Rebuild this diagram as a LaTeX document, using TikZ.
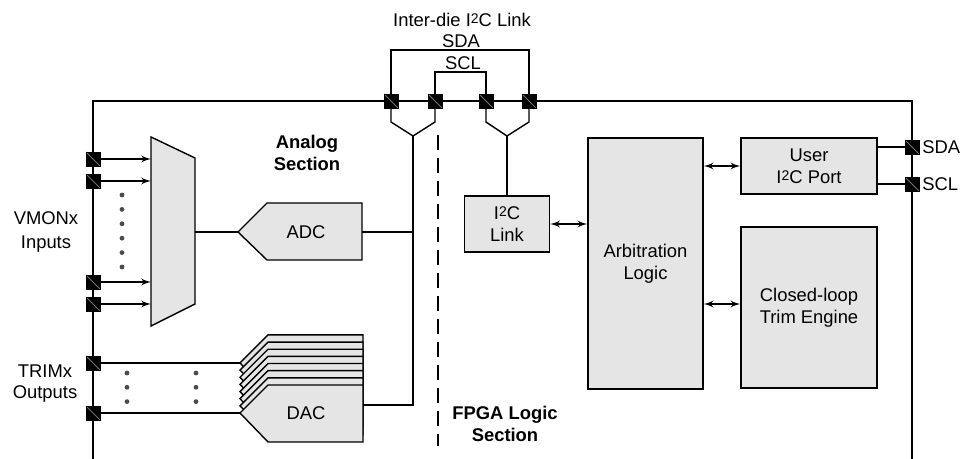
\documentclass[tikz,border=0pt]{standalone}
\usepackage{fontspec}
\setmainfont{Liberation Sans}
\usepackage{tikz}
\usetikzlibrary{arrows,positioning,calc}
\newcommand{\itwoc}{I\raisebox{0.3ex}{\fontsize{7}{7}\selectfont 2}C}
\tikzstyle{line} = [draw, line width=0.7pt]
\tikzstyle{arrline} = [draw, line width=0.7pt, -latex']
\tikzstyle{biarr} = [draw, line width=0.7pt, latex'-latex']
\tikzstyle{shade} = [draw, fill=black!10, line width=0.7pt]
\tikzstyle{block} = [draw, fill=black!10, line width=0.7pt, align=center, inner sep=0pt]
\tikzstyle{pinsq} = [draw=black, fill=black, minimum size=7pt, inner sep=0pt,
  path picture={\draw[black!55,line width=0.4pt] (path picture bounding box.north west) -- (path picture bounding box.south east);}]
\tikzstyle{dotc} = [circle, fill=black!70, minimum size=2.4pt, inner sep=0pt]

\begin{document}
\begin{tikzpicture}[x=0.5pt,y=-0.5pt,font=\fontsize{9.2}{11}\selectfont]
    \useasboundingbox (0,0) rectangle (960,459);

    % outline of the device
    \coordinate (frameBL) at (93,459);
    \coordinate (frameTL) at (93,101);
    \coordinate (frameTR) at (912,101);
    \coordinate (frameBR) at (912,459);
    \draw[line] (frameBL) -- (frameTL) -- (frameTR) -- (frameBR);

    % inter-die link brackets
    \coordinate (sdabar) at (460,50);
    \coordinate (sclbar) at (460,72);
    \coordinate (mergeL) at (413,136);
    \coordinate (mergeR) at (507,136);
    \node (sda1) at (391,101) {};
    \node (scl1) at (435,101) {};
    \node (scl2) at (486,101) {};
    \node (sda2) at (529,101) {};
    \draw[line] (sda1.center) |- (sdabar) -| (sda2.center);
    \draw[line] (scl1.center) |- (sclbar) -| (scl2.center);
    \draw[line] (sda1.center) -- ++(0,21) -- (mergeL);
    \draw[line] (scl1.center) -- ++(0,21) -- (mergeL);
    \draw[line] (scl2.center) -- ++(0,21) -- (mergeR);
    \draw[line] (sda2.center) -- ++(0,21) -- (mergeR);
    \node (linklbl) at (462,20) {Inter-die \itwoc{} Link};
    \node (sdalbl) at (461,41) {SDA};
    \node (scllbl) at (463,63) {SCL};

    % section divider
    \coordinate (dashtop) at (438,135);
    \coordinate (dashbot) at (438,446);
    \draw[line, dash pattern=on 7.5pt off 4pt] (dashtop) -- (dashbot);
    \node[font=\fontsize{9.2}{11}\selectfont\bfseries,align=center] (analoglbl) at (307,153) {Analog\\Section};
    \node[font=\fontsize{9.2}{11}\selectfont\bfseries,align=center] (fpgalbl) at (505,424) {FPGA Logic\\Section};

    % input mux
    \coordinate (muxtl) at (151,137);
    \coordinate (muxtr) at (195,158);
    \coordinate (muxbr) at (195,304);
    \coordinate (muxbl) at (151,326);
    \coordinate (muxout) at (195,232);
    \draw[shade] (muxtl) -- (muxtr) -- (muxbr) -- (muxbl) -- cycle;
    \node (vm1) at (93,159) {};
    \node (vm2) at (93,181) {};
    \node (vm3) at (93,282) {};
    \node (vm4) at (93,304) {};
    \foreach \p in {vm1,vm2,vm3,vm4}
        \draw[arrline] (\p.center) -- (\p -| muxtl);
    \foreach \i in {0,...,5}
        \node[dotc] (vdot\i) at (122,{195+14.4*\i}) {};
    \node[align=center,font=\fontsize{9.2}{12}\selectfont] (vmonlbl) at (46,232) {VMONx\\Inputs};

    % ADC
    \coordinate (adctip) at (238,232);
    \coordinate (adcR) at (362,232);
    \draw[shade] (adctip) -- (267,203) -- (362,203) -- (362,260) -- (267,260) -- cycle;
    \node (adc) at (306,232) {ADC};
    \draw[line] (muxout) -- (adctip);
    \draw[line] (adcR) -- (adcR -| mergeL);

    % DAC stack
    \foreach \k in {7,6,...,1}
        \draw[shade, shift={(0,{-7.15*\k})}] (240,413) -- (268,385) -- (363,385) -- (363,442) -- (268,442) -- cycle;
    \draw[shade] (240,413) -- (268,385) -- (363,385) -- (363,442) -- (268,442) -- cycle;
    \node (dac) at (306,413) {DAC};
    \coordinate (dactip) at (240,413);
    \coordinate (dactoptip) at (240,363);
    \coordinate (dacout) at (363,405);
    \draw[line] (dacout) -| (mergeL);
    \node (tr1) at (93,363) {};
    \node (tr2) at (93,413) {};
    \draw[line] (tr1.center) -- (dactoptip);
    \draw[line] (tr2.center) -- (dactip);
    \foreach \i in {0,1,2} {
        \node[dotc] (tdotA\i) at (127,{373+14.3*\i}) {};
        \node[dotc] (tdotB\i) at (196,{373+14.3*\i}) {};
    }
    \node[align=center,font=\fontsize{9.2}{10.5}\selectfont] (trimlbl) at (45,384) {TRIMx\\Outputs};

    % FPGA logic blocks
    \node[block, minimum width=42.5pt, minimum height=28pt] (i2c) at (507,224) {\itwoc\\Link};
    \node[block, minimum width=57.5pt, minimum height=125.5pt] (arb) at (645.5,263.5) {Arbitration\\Logic};
    \node[block, minimum width=68pt, minimum height=28pt] (user) at (809,166) {User\\\itwoc{} Port};
    \node[block, minimum width=68pt, minimum height=80.5pt] (trim) at (809,307.5) {Closed-loop\\Trim Engine};
    \draw[line] (mergeR) -- (i2c.north);
    \draw[biarr] (i2c.east) -- (i2c.east -| arb.west);
    \draw[biarr] (arb.east |- user.west) -- (user.west);
    \draw[biarr] (arb.east |- 0,304) -- (trim.west |- 0,304);

    % user pins
    \node (usda) at (912,147) {};
    \node (uscl) at (912,184) {};
    \draw[line] (user.east |- usda) -- (usda.center);
    \draw[line] (user.east |- uscl) -- (uscl.center);
    \node[anchor=west,inner sep=0pt] (usdalbl) at (922,147) {SDA};
    \node[anchor=west,inner sep=0pt] (uscllbl) at (922,184) {SCL};

    % pads
    \foreach \p in {sda1,scl1,scl2,sda2,vm1,vm2,vm3,vm4,tr1,tr2,usda,uscl}
        \node[pinsq] at (\p.center) {};
\end{tikzpicture}
\end{document}
